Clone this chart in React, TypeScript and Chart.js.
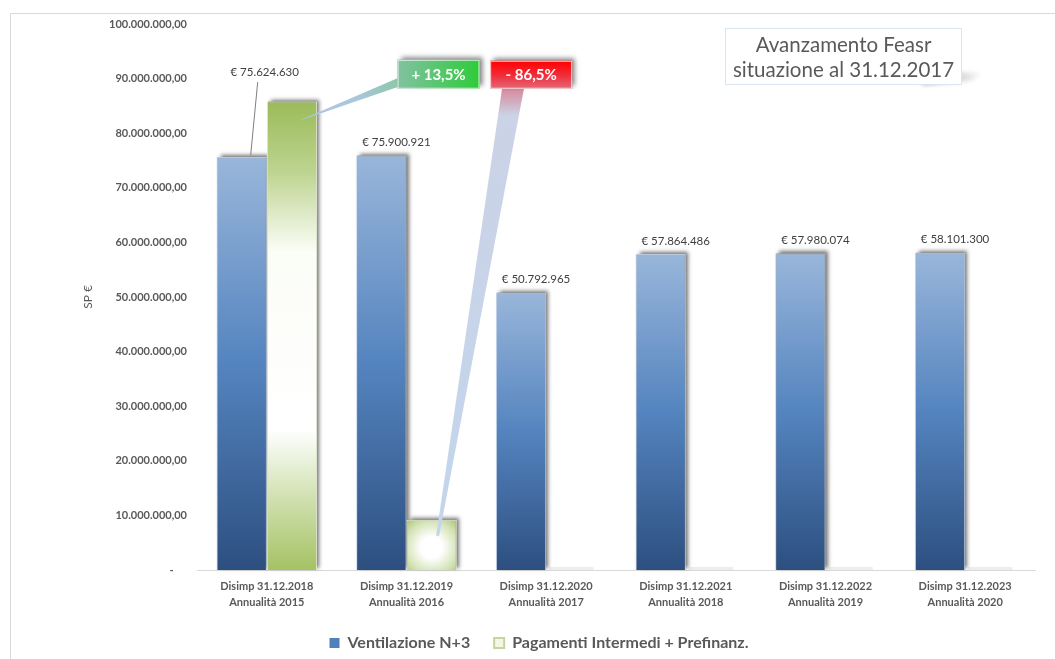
import React, { useEffect, useRef } from "react";
import { Chart, registerables } from "chart.js";

Chart.register(...registerables);

const FONT = "Lato, 'Open Sans', 'DejaVu Sans', sans-serif";

const categoryLines: string[][] = [
  ["Disimp 31.12.2018", "Annualità 2015"],
  ["Disimp 31.12.2019", "Annualità 2016"],
  ["Disimp 31.12.2020", "Annualità 2017"],
  ["Disimp 31.12.2021", "Annualità 2018"],
  ["Disimp 31.12.2022", "Annualità 2019"],
  ["Disimp 31.12.2023", "Annualità 2020"],
];
const ventilazioneValues = [75624630, 75900921, 50792965, 57864486, 57980074, 58101300];
const pagamentiValues = [85800000, 9200000, 0, 0, 0, 0];
const seriesNames = ["Ventilazione N+3", "Pagamenti Intermedi + Prefinanz."];
const yMax = 100000000;
const yStep = 10000000;
const axisTitle = "SP €";
const calloutTexts = ["+ 13,5%", "- 86,5%"];
const titleLines = ["Avanzamento Feasr", "situazione al 31.12.2017"];

function groupThousands(n: number): string {
  return Math.round(n).toString().replace(/\B(?=(\d{3})+(?!\d))/g, ".");
}
const fmtTick = (v: number) => (v === 0 ? "-     " : groupThousands(v) + ",00");
const fmtLabel = (v: number) => "€ " + groupThousands(v);

const framePlugin = {
  id: "frame",
  afterLayout(chart: any) {
    const lg = chart.legend;
    if (lg) {
      lg.left -= 17;
      lg.right -= 17;
    }
  },
  beforeDraw(chart: any) {
    const ctx = chart.ctx;
    ctx.save();
    ctx.fillStyle = "#ffffff";
    ctx.fillRect(0, 0, chart.width, chart.height);
    ctx.strokeStyle = "#d9d9d9";
    ctx.lineWidth = 1;
    ctx.beginPath();
    ctx.moveTo(10.5, chart.height);
    ctx.lineTo(10.5, 13.5);
    ctx.lineTo(chart.width, 13.5);
    ctx.stroke();
    ctx.restore();
  },
};

const barStylePlugin = {
  id: "barStyle",
  beforeDatasetsDraw(chart: any) {
    const ctx = chart.ctx;
    // shadows
    chart.data.datasets.forEach((_: any, di: number) => {
      const meta = chart.getDatasetMeta(di);
      meta.data.forEach((el: any) => {
        const h = el.base - el.y;
        ctx.save();
        if (h < 1) {
          ctx.fillStyle = "rgba(0,0,0,0.07)";
          ctx.fillRect(el.x - el.width / 2 + 3, el.base - 3, el.width - 6, 3);
        } else {
          ctx.shadowColor = "rgba(0,0,0,0.55)";
          ctx.shadowBlur = 4;
          ctx.shadowOffsetX = 3;
          ctx.shadowOffsetY = -2;
          ctx.fillStyle = "#8c8c8c";
          ctx.fillRect(el.x - el.width / 2 + 1, el.y, el.width - 2, h);
        }
        ctx.restore();
      });
    });
    // gradients
    chart.data.datasets.forEach((_: any, di: number) => {
      const meta = chart.getDatasetMeta(di);
      meta.data.forEach((el: any) => {
        const top = el.y;
        const base = el.base;
        const h = base - top;
        if (h < 1) return;
        let g: any;
        if (di === 0) {
          g = ctx.createLinearGradient(0, top, 0, base);
          g.addColorStop(0, "#99b6da");
          g.addColorStop(0.5, "#5484bf");
          g.addColorStop(1, "#2d4f80");
        } else if (h > el.width * 1.5) {
          g = ctx.createLinearGradient(0, top, 0, base);
          g.addColorStop(0, "#9bbb59");
          g.addColorStop(0.15, "#bdd490");
          g.addColorStop(0.32, "#fbfdf7");
          g.addColorStop(0.7, "#ffffff");
          g.addColorStop(0.85, "#cfe0ae");
          g.addColorStop(1, "#a5c264");
        } else {
          const cx = el.x;
          const cy = top + h * 0.55;
          const r = Math.sqrt((el.width / 2) ** 2 + (h / 2) ** 2) || 1;
          g = ctx.createRadialGradient(cx, cy, 0, cx, cy, r);
          g.addColorStop(0, "#ffffff");
          g.addColorStop(0.3, "#ffffff");
          g.addColorStop(0.75, "#d2e2b3");
          g.addColorStop(1, "#afc97a");
        }
        el.options = Object.assign({}, el.options, { backgroundColor: g });
      });
    });
  },
};

function boxShadow(ctx: any, x: number, y: number, w: number, h: number) {
  ctx.save();
  ctx.shadowColor = "rgba(0,0,0,0.5)";
  ctx.shadowBlur = 5;
  ctx.shadowOffsetX = 3;
  ctx.shadowOffsetY = -3;
  ctx.fillStyle = "#808080";
  ctx.fillRect(x, y, w, h);
  ctx.restore();
}

const annotationPlugin = {
  id: "annotations",
  afterDatasetsDraw(chart: any) {
    const ctx = chart.ctx;
    const xs = chart.scales.x;
    const ys = chart.scales.y;
    const area = chart.chartArea;
    const blue = chart.getDatasetMeta(0).data;
    const green = chart.getDatasetMeta(1).data;

    // data labels
    ctx.save();
    ctx.font = `11.5px ${FONT}`;
    ctx.fillStyle = "#404040";
    ctx.textAlign = "center";
    ctx.textBaseline = "middle";
    blue.forEach((el: any, i: number) => {
      const text = fmtLabel(ventilazioneValues[i]);
      if (i === 0) {
        const lx = el.x + 23;
        const ly = el.y - 85;
        ctx.fillText(text, lx, ly);
        ctx.strokeStyle = "#7f7f7f";
        ctx.lineWidth = 1;
        ctx.beginPath();
        ctx.moveTo(el.x + 16, ly + 10);
        ctx.lineTo(el.x + 9, el.y - 2);
        ctx.stroke();
      } else {
        ctx.fillText(text, el.x + 15, el.y - 13);
      }
    });
    ctx.restore();

    const boxW = 82;
    const boxH = 29;
    const boxCy = ys.getPixelForValue(90800000);

    // green callout
    const gcx = xs.getPixelForValue(1) + 32;
    const gx = gcx - boxW / 2;
    const gy = boxCy - boxH / 2;
    const gTip = green[0];
    const gtx = gTip.x + 5;
    const gty = gTip.y + 20;
    ctx.save();
    const wg = ctx.createLinearGradient(gtx, gty, gx, gy + 20);
    wg.addColorStop(0, "#b0c7e2");
    wg.addColorStop(0.6, "#a9c6dc");
    wg.addColorStop(1, "#8cc8a6");
    ctx.fillStyle = wg;
    ctx.beginPath();
    ctx.moveTo(gtx, gty);
    ctx.lineTo(gx + 1, gy + 18);
    ctx.lineTo(gx + 1, gy + 27);
    ctx.closePath();
    ctx.fill();
    ctx.restore();
    boxShadow(ctx, gx, gy, boxW, boxH);
    ctx.save();
    const bg = ctx.createLinearGradient(gx, 0, gx + boxW, 0);
    bg.addColorStop(0, "#82c2a2");
    bg.addColorStop(1, "#2ecb3a");
    ctx.fillStyle = bg;
    ctx.fillRect(gx, gy, boxW, boxH);
    ctx.strokeStyle = "rgba(255,255,255,0.8)";
    ctx.lineWidth = 1;
    ctx.strokeRect(gx + 0.5, gy + 0.5, boxW - 1, boxH - 1);
    ctx.fillStyle = "#ffffff";
    ctx.font = `bold 15px ${FONT}`;
    ctx.textAlign = "center";
    ctx.textBaseline = "middle";
    ctx.fillText(calloutTexts[0], gcx, boxCy + 0.5);
    ctx.restore();

    // red callout
    const rcx = xs.getPixelForValue(2) - 15;
    const rx = rcx - boxW / 2;
    const ry = boxCy - boxH / 2 + 1;
    const rh = boxH - 1;
    const rTip = green[1];
    const rtx = rTip.x + 6;
    const rty = rTip.y + 16;
    ctx.save();
    const wr = ctx.createLinearGradient(0, ry + rh, 0, rty);
    wr.addColorStop(0, "#d7899b");
    wr.addColorStop(0.06, "#cbd3e6");
    wr.addColorStop(1, "#c3d5ec");
    ctx.fillStyle = wr;
    ctx.beginPath();
    ctx.moveTo(rx + 12, ry + rh - 1);
    ctx.lineTo(rx + 34, ry + rh - 1);
    ctx.lineTo(rtx + 1.5, rty);
    ctx.lineTo(rtx - 1.5, rty);
    ctx.closePath();
    ctx.fill();
    ctx.restore();
    boxShadow(ctx, rx, ry, boxW, rh);
    ctx.save();
    const rg = ctx.createLinearGradient(0, ry, 0, ry + rh);
    rg.addColorStop(0, "#ff0000");
    rg.addColorStop(0.5, "#f22a36");
    rg.addColorStop(1, "#e3697a");
    ctx.fillStyle = rg;
    ctx.fillRect(rx, ry, boxW, rh);
    ctx.strokeStyle = "rgba(255,255,255,0.8)";
    ctx.lineWidth = 1;
    ctx.strokeRect(rx + 0.5, ry + 0.5, boxW - 1, rh - 1);
    ctx.fillStyle = "#ffffff";
    ctx.font = `bold 15px ${FONT}`;
    ctx.textAlign = "center";
    ctx.textBaseline = "middle";
    ctx.fillText(calloutTexts[1], rcx, ry + rh / 2 + 0.5);
    ctx.restore();

    // title box
    const tw = 237;
    const th = 57;
    const tx = area.right - 310;
    const ty = area.top + 4;
    ctx.save();
    const sg = ctx.createLinearGradient(tx + tw - 30, 0, tx + tw + 22, 0);
    sg.addColorStop(0, "rgba(0,0,0,0.35)");
    sg.addColorStop(1, "rgba(0,0,0,0)");
    ctx.fillStyle = sg;
    ctx.filter = "blur(2px)";
    ctx.beginPath();
    ctx.moveTo(tx + tw - 40, ty + th - 14);
    ctx.lineTo(tx + tw + 20, ty + th - 12);
    ctx.lineTo(tx + tw + 10, ty + th - 4);
    ctx.lineTo(tx + tw - 40, ty + th);
    ctx.closePath();
    ctx.fill();
    ctx.restore();
    ctx.save();
    ctx.fillStyle = "#ffffff";
    ctx.fillRect(tx, ty, tw, th);
    ctx.strokeStyle = "#dbe5f1";
    ctx.lineWidth = 1;
    ctx.strokeRect(tx + 0.5, ty + 0.5, tw - 1, th - 1);
    ctx.fillStyle = "#595959";
    ctx.font = `20.5px ${FONT}`;
    ctx.textAlign = "center";
    ctx.textBaseline = "middle";
    ctx.fillText(titleLines[0], tx + tw / 2, ty + 17);
    ctx.fillText(titleLines[1], tx + tw / 2, ty + 42);
    ctx.restore();
  },
};

export default function App() {
  const canvasRef = useRef<HTMLCanvasElement | null>(null);

  useEffect(() => {
    const canvas = canvasRef.current;
    if (!canvas) return;
    Chart.defaults.font.family = FONT;
    const chart = new Chart(canvas, {
      type: "bar",
      data: {
        labels: categoryLines,
        datasets: [
          {
            label: seriesNames[0],
            data: ventilazioneValues,
            backgroundColor: "#4f81bd",
            borderColor: "rgba(190,208,232,0.9)",
            borderWidth: 1,
            categoryPercentage: 0.72,
            barPercentage: 1.0,
          },
          {
            label: seriesNames[1],
            data: pagamentiValues,
            backgroundColor: "#9bbb59",
            borderColor: "#e6eed6",
            borderWidth: 1,
            categoryPercentage: 0.72,
            barPercentage: 1.0,
          },
        ],
      },
      options: {
        animation: false,
        responsive: false,
        events: [],
        layout: { padding: { left: 77, right: 20, top: 24, bottom: -2 } },
        plugins: {
          tooltip: { enabled: false },
          title: { display: false },
          legend: {
            display: true,
            position: "bottom",
            labels: {
              boxWidth: 10,
              boxHeight: 10,
              padding: 24,
              color: "#595959",
              font: { size: 16, weight: "bold", family: FONT },
              generateLabels: () => [
                {
                  text: seriesNames[0],
                  fillStyle: "#4f81bd",
                  strokeStyle: "#3f6fa8",
                  lineWidth: 0,
                  hidden: false,
                  datasetIndex: 0,
                  fontColor: "#595959",
                },
                {
                  text: seriesNames[1],
                  fillStyle: "#f2f7e8",
                  strokeStyle: "#c3d69b",
                  lineWidth: 2,
                  hidden: false,
                  datasetIndex: 1,
                  fontColor: "#595959",
                },
              ],
            },
          },
        },
        scales: {
          x: {
            grid: { display: false, drawTicks: false },
            border: { display: true, color: "#d9d9d9", width: 1 },
            ticks: {
              color: "#595959",
              font: { size: 11, weight: "bold", family: FONT, lineHeight: 1.5 },
              padding: 8,
              maxRotation: 0,
              autoSkip: false,
            },
            afterFit: (s: any) => {
              s.height = 41;
            },
          },
          y: {
            min: 0,
            max: yMax,
            grid: { display: false, drawTicks: false },
            border: { display: false },
            ticks: {
              stepSize: yStep,
              color: "#595959",
              font: { size: 11, weight: "bold", family: FONT },
              padding: 10,
              callback: (v: any) => fmtTick(Number(v)),
            },
            title: {
              display: true,
              text: axisTitle,
              color: "#595959",
              font: { size: 12, family: FONT },
              padding: { top: 4, bottom: 4 },
            },
            afterFit: (s: any) => {
              s.width = 120;
            },
          },
        },
      },
      plugins: [framePlugin, barStylePlugin, annotationPlugin],
    } as any);
    return () => chart.destroy();
  }, []);

  return (
    <div style={{ position: "fixed", left: 0, top: 0, width: 1055, height: 659, background: "#ffffff" }}>
      <canvas ref={canvasRef} width={1055} height={659} style={{ display: "block", width: 1055, height: 659 }} />
    </div>
  );
}
